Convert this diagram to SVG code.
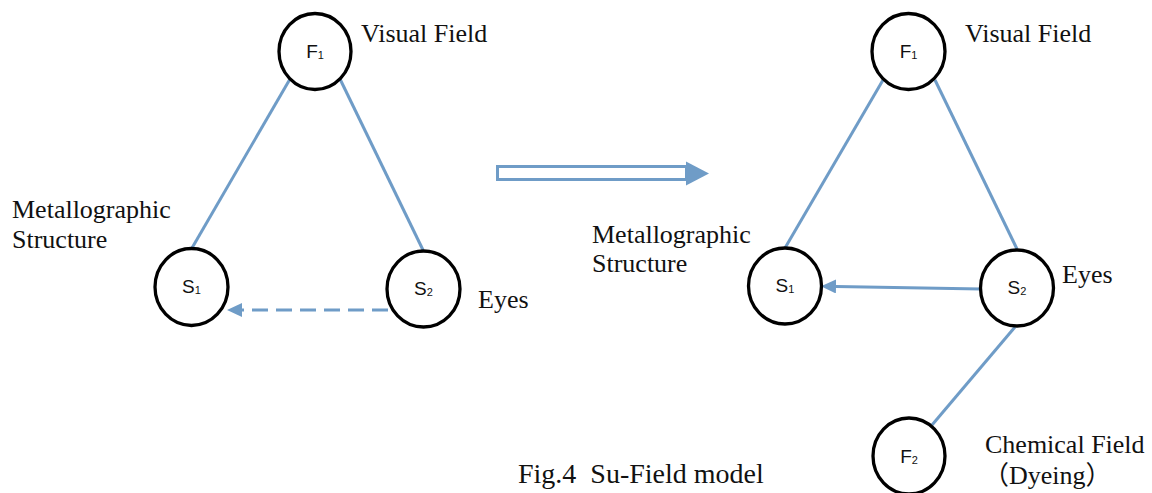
<svg xmlns="http://www.w3.org/2000/svg" width="1152" height="493" viewBox="0 0 1152 493">
<style>
.node{fill:#fff;stroke:#000;stroke-width:3.3}
.nl{font-family:"Liberation Sans",Arial,sans-serif;font-size:19px;fill:#111;text-anchor:middle}
.sub{font-size:11px}
.lbl{font-family:"Liberation Serif","Times New Roman",serif;font-size:26px;fill:#111}
.cap{font-size:28px}
.cjk{font-family:"Liberation Serif","Noto Sans CJK SC",serif}
.edge{stroke:#6f9cc7;stroke-width:3;fill:none}
</style>
<defs>
<marker id="ah" markerUnits="userSpaceOnUse" markerWidth="16" markerHeight="16" refX="0" refY="7" orient="auto">
<path d="M0,0 L15,7 L0,14 z" fill="#6f9cc7"/>
</marker>
</defs>
<rect width="1152" height="493" fill="#fff"/>
<g id="connectors">
<line class="edge" x1="290" y1="79" x2="192" y2="248"/>
<line class="edge" x1="340" y1="79" x2="423" y2="250"/>
<line class="edge" x1="388" y1="310" x2="242" y2="310" stroke-width="3.3" stroke-dasharray="16 8" marker-end="url(#ah)"/>
<line class="edge" x1="883" y1="80" x2="785" y2="248"/>
<line class="edge" x1="935" y1="80" x2="1017" y2="249"/>
<line class="edge" x1="981" y1="289" x2="836" y2="286.5" marker-end="url(#ah)"/>
<line class="edge" x1="1015" y1="327" x2="932" y2="425"/>
<g id="transform-arrow">
<rect x="497.5" y="166.5" width="189" height="13" fill="#fff" stroke="#6f9cc7" stroke-width="3"/>
<polygon points="686,161.5 709,173.5 686,185.5" fill="#6f9cc7"/>
</g>
</g>
<g id="left-F1">
<ellipse class="node" cx="315" cy="51.5" rx="36" ry="38"/>
<text class="nl" x="315" y="58">F<tspan class="sub" dy="1">1</tspan></text>
<text class="lbl" x="361" y="42">Visual Field</text>
</g>
<g id="left-S1">
<ellipse class="node" cx="191.5" cy="287" rx="36.5" ry="38.5"/>
<text class="nl" x="191.5" y="293">S<tspan class="sub" dy="1">1</tspan></text>
<text class="lbl" x="12" y="218">Metallographic</text>
<text class="lbl" x="12" y="248">Structure</text>
</g>
<g id="left-S2">
<ellipse class="node" cx="423.5" cy="289" rx="36.5" ry="38"/>
<text class="nl" x="423.5" y="295">S<tspan class="sub" dy="1">2</tspan></text>
<text class="lbl" x="478" y="308">Eyes</text>
</g>
<g id="right-F1">
<ellipse class="node" cx="908.5" cy="51.5" rx="36.5" ry="38"/>
<text class="nl" x="908.5" y="58">F<tspan class="sub" dy="1">1</tspan></text>
<text class="lbl" x="965" y="42">Visual Field</text>
</g>
<g id="right-S1">
<ellipse class="node" cx="785" cy="286" rx="36.5" ry="38"/>
<text class="nl" x="785" y="292">S<tspan class="sub" dy="1">1</tspan></text>
<text class="lbl" x="592" y="243">Metallographic</text>
<text class="lbl" x="592" y="272">Structure</text>
</g>
<g id="right-S2">
<ellipse class="node" cx="1017" cy="288" rx="36.5" ry="38"/>
<text class="nl" x="1017" y="294">S<tspan class="sub" dy="1">2</tspan></text>
<text class="lbl" x="1062" y="283">Eyes</text>
</g>
<g id="right-F2">
<ellipse class="node" cx="909" cy="456" rx="36" ry="38"/>
<text class="nl" x="909" y="463">F<tspan class="sub" dy="1">2</tspan></text>
<text class="lbl" x="985" y="453">Chemical Field</text>
<text class="lbl cjk" x="983" y="484">（Dyeing）</text>
</g>
<g id="caption">
<text class="lbl cap" x="518" y="483" xml:space="preserve">Fig.4  Su-Field model</text>
</g>
</svg>
